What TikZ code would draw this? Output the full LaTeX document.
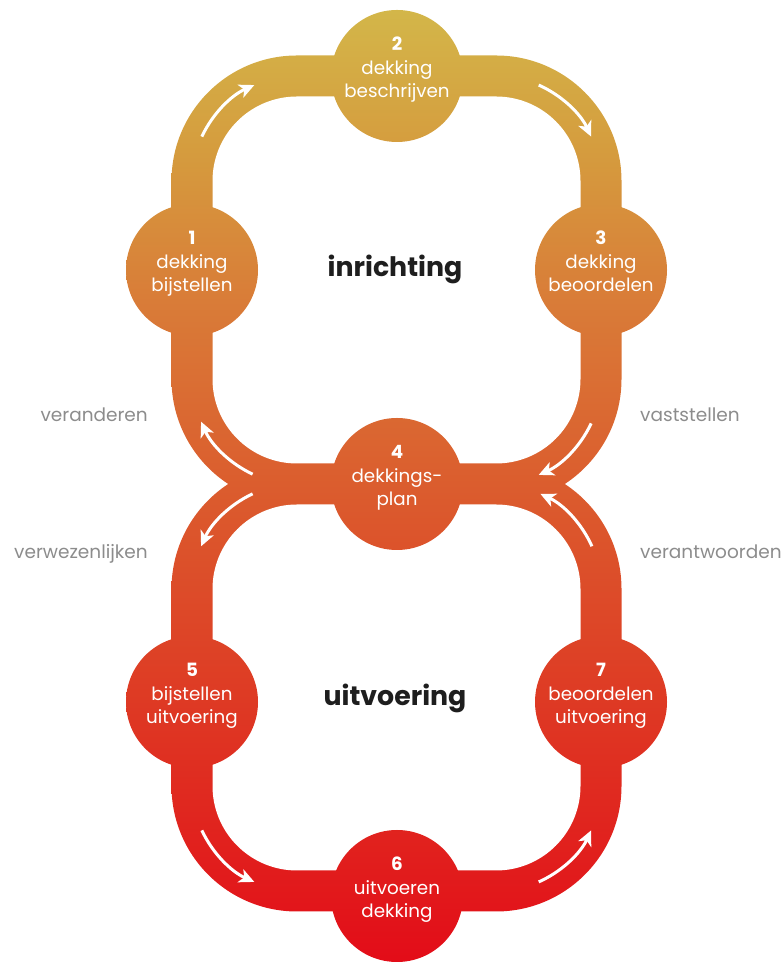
\documentclass[tikz,border=0pt]{standalone}
\usepackage{fontspec}
\setmainfont{Poppins}
\usetikzlibrary{arrows.meta,calc}
\definecolor{g1}{RGB}{211,184,74}
\definecolor{g2}{RGB}{213,156,62}
\definecolor{g3}{RGB}{217,124,56}
\definecolor{g4}{RGB}{219,93,46}
\definecolor{g5}{RGB}{222,58,36}
\definecolor{g6}{RGB}{227,12,24}
\definecolor{sidegray}{RGB}{140,140,140}
\definecolor{darktext}{RGB}{30,30,30}
\pgfdeclareverticalshading{eightgrad}{100bp}{color(0bp)=(g6); color(25bp)=(g6); color(38.7bp)=(g5); color(49.9bp)=(g4); color(59.4bp)=(g3); color(67.2bp)=(g2); color(75bp)=(g1); color(100bp)=(g1)}
\tikzset{
  flow/.style={draw=white, line width=3pt, -{Stealth[length=15pt,width=14pt,inset=4pt]}},
  circtext/.style={text=white, align=center, font=\fontsize{18.3}{23.5}\selectfont, inner sep=0pt},
  sidelabel/.style={text=sidegray, font=\fontsize{18.5}{21}\selectfont, inner sep=0pt},
  centerlabel/.style={text=darktext, font=\fontsize{26.8}{31}\selectfont\bfseries, inner sep=0pt}
}
\begin{document}
\begin{tikzpicture}[x=1pt,y=1pt]
\useasboundingbox (0,0) rectangle (783,963);
% circle centres
\coordinate (p1) at (192,693);
\coordinate (p2) at (397,887);
\coordinate (p3) at (601,693);
\coordinate (p4) at (397,479);
\coordinate (p5) at (192,261);
\coordinate (p6) at (397,67);
\coordinate (p7) at (601,261);
% corner centres
\coordinate (uTL) at (297,782);
\coordinate (uTR) at (496,782);
\coordinate (uBR) at (496,584);
\coordinate (uBL) at (297,584);
\coordinate (lTL) at (297,374);
\coordinate (lTR) at (496,374);
\coordinate (lBL) at (297,177);
\coordinate (lBR) at (496,177);
% bands
\begin{scope}
  \clip[rounded corners=125.5pt] (171.5,458.5) rectangle (621.5,907.5) (171.5,51.5) rectangle (621.5,499.5);
  \shade[shading=eightgrad] (0,0) rectangle (783,963);
\end{scope}
\fill[white, rounded corners=84.5pt] (212.5,499.5) rectangle (580.5,866.5) (212.5,92.5) rectangle (580.5,458.5);
% circles
\begin{scope}
  \clip (p1) circle[radius=66] (p2) circle[radius=66] (p3) circle[radius=66] (p4) circle[radius=66] (p5) circle[radius=66] (p6) circle[radius=66] (p7) circle[radius=66];
  \shade[shading=eightgrad] (0,0) rectangle (783,963);
\end{scope}
% arrows
\draw[flow] ($(uTL)+(155:105)$) arc[start angle=155,end angle=114,radius=105];
\draw[flow] ($(uTR)+(66:105)$) arc[start angle=66,end angle=25,radius=105];
\draw[flow] ($(uBR)+(-25:105)$) arc[start angle=-25,end angle=-66,radius=105];
\draw[flow] ($(uBL)+(-115:105)$) arc[start angle=-115,end angle=-156,radius=105];
\draw[flow] ($(lTL)+(115:105)$) arc[start angle=115,end angle=156,radius=105];
\draw[flow] ($(lBL)+(205:105)$) arc[start angle=205,end angle=246,radius=105];
\draw[flow] ($(lBR)+(-66:105)$) arc[start angle=-66,end angle=-25,radius=105];
\draw[flow] ($(lTR)+(24:105)$) arc[start angle=24,end angle=65,radius=105];
% circle texts
\node[circtext, yshift=6pt] (n1) at (p1) {\textbf{1}\\dekking\\bijstellen};
\node[circtext, yshift=6pt] (n2) at (p2) {\textbf{2}\\dekking\\beschrijven};
\node[circtext, yshift=6pt] (n3) at (p3) {\textbf{3}\\dekking\\beoordelen\vphantom{g}};
\node[circtext, yshift=6pt] (n4) at (p4) {\textbf{4}\\dekkings-\\plan};
\node[circtext, yshift=6pt] (n5) at (p5) {\textbf{5}\\bijstellen\\uitvoering};
\node[circtext, yshift=6pt] (n6) at (p6) {\textbf{6}\\uitvoeren\\dekking};
\node[circtext, yshift=6pt] (n7) at (p7) {\textbf{7}\\beoordelen\\uitvoering};
% centre labels
\node[centerlabel, anchor=base] (inr) at (395,686) {inrichting};
\node[centerlabel, anchor=base] (uit) at (395,257) {uitvoering};
% side labels
\node[sidelabel, anchor=base east] (ver) at (148,541) {veranderen};
\node[sidelabel, anchor=base east] (vwz) at (148,404.5) {verwezenlijken};
\node[sidelabel, anchor=base west] (vst) at (640,541) {vaststellen};
\node[sidelabel, anchor=base west] (vaw) at (640,404.5) {verantwoorden};
\end{tikzpicture}
\end{document}
